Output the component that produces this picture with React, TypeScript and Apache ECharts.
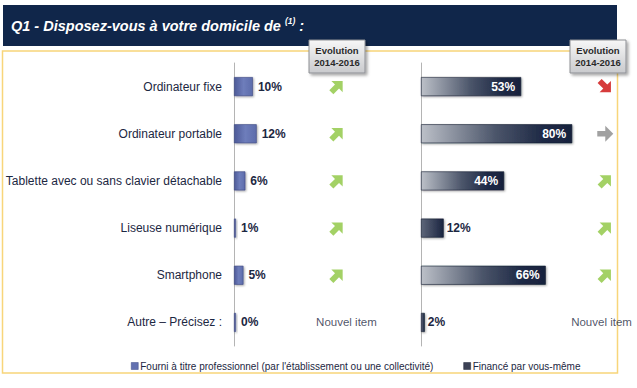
import React, { useEffect, useRef } from "react";
import * as echarts from "echarts";

const categories = [
  "Ordinateur fixe",
  "Ordinateur portable",
  "Tablette avec ou sans clavier détachable",
  "Liseuse numérique",
  "Smartphone",
  "Autre – Précisez :",
];
const proValues = [10, 12, 6, 1, 5, 0];
const selfValues = [53, 80, 44, 12, 66, 2];
const proEvolution = ["up", "up", "up", "up", "up", "new"];
const selfEvolution = ["down", "flat", "up", "up", "up", "new"];
const seriesNames = [
  "Fourni à titre professionnel (par l'établissement ou une collectivité)",
  "Financé par vous-même",
];
const titleText = "Q1 - Disposez-vous à votre domicile de ";
const evolutionLabel = ["Evolution", "2014-2016"];
const newItemLabel = "Nouvel item";

const FONT = '"Liberation Sans", Arial, sans-serif';
const INK = "#1c2742";
const ARROW = "path://M0,4.5 L7,4.5 L7,0 L14,7 L7,14 L7,9.5 L0,9.5 Z";

const arrowStyle: Record<string, { color: string; rotate: number }> = {
  up: { color: "#8cc63f", rotate: 45 },
  down: { color: "#cc0a0a", rotate: -45 },
  flat: { color: "#8a8a8a", rotate: 0 },
};

function arrowData(evo: string[], x: number) {
  return evo
    .map((e, i) => ({ e, i }))
    .filter((d) => d.e !== "new")
    .map((d) => ({
      value: [x, categories[d.i]],
      symbolRotate: arrowStyle[d.e].rotate,
      itemStyle: { color: arrowStyle[d.e].color },
    }));
}
function newData(evo: string[], x: number) {
  return evo
    .map((e, i) => ({ e, i }))
    .filter((d) => d.e === "new")
    .map((d) => ({ value: [x, categories[d.i]] }));
}

function evoBox(x: number, y: number) {
  return {
    type: "group",
    x,
    y,
    children: [
      {
        type: "rect",
        shape: { x: 0, y: 0, width: 56, height: 33 },
        style: {
          fill: new echarts.graphic.LinearGradient(0, 0, 0, 1, [
            { offset: 0, color: "#f7f7f7" },
            { offset: 1, color: "#c9cacd" },
          ]),
          stroke: "#8d8f94",
          lineWidth: 1,
          shadowBlur: 3,
          shadowOffsetX: 2,
          shadowOffsetY: 2,
          shadowColor: "rgba(0,0,0,0.35)",
        },
        z: 20,
      },
      {
        type: "text",
        x: 28,
        y: 16.5,
        style: {
          text: evolutionLabel.join("\n"),
          fill: "#2a2a2a",
          font: `bold 9.5px ${FONT}`,
          align: "center",
          verticalAlign: "middle",
          lineHeight: 12,
        },
        z: 21,
      },
    ],
  };
}

export default function App() {
  const ref = useRef<HTMLDivElement>(null);
  useEffect(() => {
    if (!ref.current) return;
    const chart = echarts.init(ref.current, null, { renderer: "svg" });
    const leftBarColor = new echarts.graphic.LinearGradient(0, 0, 1, 0, [
      { offset: 0, color: "#4d5a98" },
      { offset: 0.5, color: "#6e7dbb" },
      { offset: 1, color: "#5d6cab" },
    ]);
    const rightBig = new echarts.graphic.LinearGradient(0, 0, 1, 0, [
      { offset: 0, color: "#bcc0c8" },
      { offset: 0.5, color: "#4a5469" },
      { offset: 0.8, color: "#1f2a46" },
      { offset: 1, color: "#18223d" },
    ]);
    const rightSmall = new echarts.graphic.LinearGradient(0, 0, 1, 0, [
      { offset: 0, color: "#5e6679" },
      { offset: 1, color: "#1a2440" },
    ]);
    const shadow = {
      shadowBlur: 2,
      shadowOffsetX: 1,
      shadowOffsetY: 1,
      shadowColor: "rgba(0,0,0,0.35)",
    };
    const option: any = {
      animation: false,
      backgroundColor: "#ffffff",
      textStyle: { fontFamily: FONT },
      grid: [
        { left: 234, width: 189, top: 63, height: 283, containLabel: false, outerBoundsMode: "none" },
        { left: 421, width: 189, top: 63, height: 283, containLabel: false, outerBoundsMode: "none" },
      ],
      xAxis: [0, 1].map((g) => ({
        type: "value",
        gridIndex: g,
        min: 0,
        max: 100,
        show: false,
      })),
      yAxis: [0, 1].map((g) => ({
        type: "category",
        gridIndex: g,
        data: categories,
        inverse: true,
        axisLine: { show: true, lineStyle: { color: "#b4b4b4", width: 1 } },
        axisTick: { show: false },
        axisLabel: {
          show: g === 0,
          margin: 12,
          color: INK,
          fontSize: 12,
          fontFamily: FONT,
        },
        splitLine: { show: false },
      })),
      legend: {
        left: 126,
        top: 356,
        width: 500,
        itemWidth: 7,
        itemHeight: 7,
        itemGap: 30,
        icon: "rect",
        textStyle: { color: INK, fontSize: 10, fontFamily: FONT, padding: [0, 0, 0, -3] },
        data: [
          { name: seriesNames[0], itemStyle: { color: "#6270b0", borderColor: "#3d4a86", borderWidth: 0.5 } },
          { name: seriesNames[1], itemStyle: { color: "#3c4255", borderColor: "#1e2438", borderWidth: 0.5 } },
        ],
      },
      series: [
        {
          name: seriesNames[0],
          type: "bar",
          xAxisIndex: 0,
          yAxisIndex: 0,
          barWidth: 19,
          barMinHeight: 2,
          data: proValues,
          itemStyle: { color: leftBarColor, borderColor: "#3a4680", borderWidth: 0.6, ...shadow },
          label: {
            show: true,
            position: "right",
            distance: 5,
            formatter: "{c}%",
            color: INK,
            fontSize: 12,
            fontWeight: "bold",
            fontFamily: FONT,
          },
        },
        {
          name: seriesNames[1],
          type: "bar",
          xAxisIndex: 1,
          yAxisIndex: 1,
          barWidth: 19,
          data: selfValues.map((v) => {
            const big = v >= 30;
            return {
              value: v,
              itemStyle: { color: big ? rightBig : rightSmall },
              label: big
                ? { position: "insideRight", distance: 6, color: "#ffffff" }
                : { position: "right", distance: 3, color: INK },
            };
          }),
          itemStyle: { borderColor: "#141c30", borderWidth: 0.6, ...shadow },
          label: {
            show: true,
            formatter: "{c}%",
            fontSize: 12,
            fontWeight: "bold",
            fontFamily: FONT,
          },
        },
        {
          type: "scatter",
          xAxisIndex: 0,
          yAxisIndex: 0,
          symbol: ARROW,
          symbolSize: 16,
          data: arrowData(proEvolution, 54.5),
          z: 5,
        },
        {
          type: "scatter",
          xAxisIndex: 1,
          yAxisIndex: 1,
          symbol: ARROW,
          symbolSize: 16,
          data: arrowData(selfEvolution, 97.5),
          z: 5,
        },
        {
          type: "scatter",
          xAxisIndex: 0,
          yAxisIndex: 0,
          symbolSize: 0,
          data: newData(proEvolution, 59.5),
          label: { show: true, position: "inside", formatter: newItemLabel, color: INK, fontSize: 11.5, fontFamily: FONT },
        },
        {
          type: "scatter",
          xAxisIndex: 1,
          yAxisIndex: 1,
          symbolSize: 0,
          data: newData(selfEvolution, 95.5),
          label: { show: true, position: "inside", formatter: newItemLabel, color: INK, fontSize: 11.5, fontFamily: FONT },
        },
      ],
      graphic: [
        {
          type: "rect",
          shape: { x: 2.5, y: 51, width: 615, height: 322 },
          style: { fill: "none", stroke: "#f8d57a", lineWidth: 1.5 },
          z: -1,
        },
        {
          type: "rect",
          shape: { x: 3, y: 5, width: 614, height: 41 },
          style: { fill: "#10264a" },
          z: 1,
        },
        {
          type: "text",
          x: 11,
          y: 26,
          style: {
            text: `{t|${titleText}}{s|(1)}{t| :}`,
            verticalAlign: "middle",
            rich: {
              t: { fill: "#ffffff", font: `italic bold 14.5px ${FONT}`, lineHeight: 20 },
              s: { fill: "#ffffff", font: `italic bold 8.5px ${FONT}`, verticalAlign: "top", lineHeight: 20 },
            },
          },
          z: 2,
        },
        evoBox(309, 40),
        evoBox(570, 40),
      ],
    };
    chart.setOption(option);
    return () => chart.dispose();
  }, []);
  return (
    <div
      ref={ref}
      style={{ position: "fixed", left: 0, top: 0, width: 637, height: 388, background: "#fff" }}
    />
  );
}
